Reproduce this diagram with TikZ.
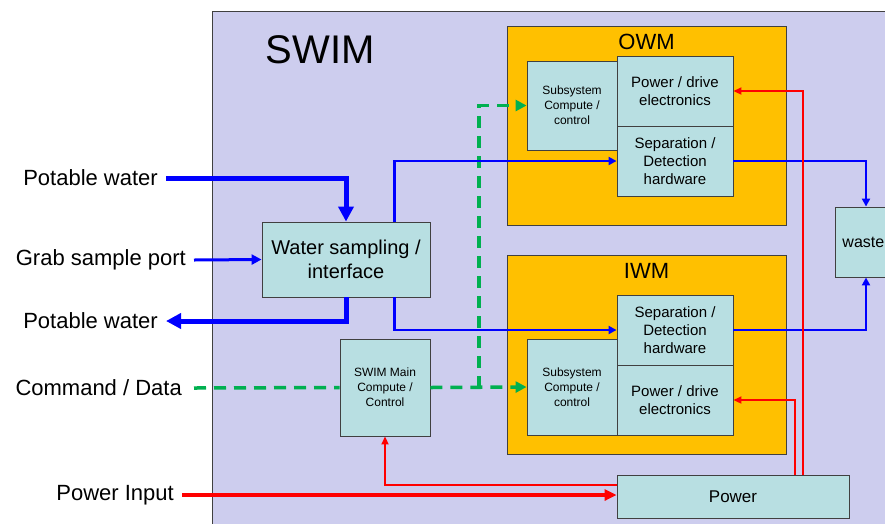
\documentclass[tikz,border=0pt]{standalone}
\usepackage{fontspec}
\setmainfont{Liberation Sans}
\usepackage{tikz}
\usetikzlibrary{positioning, calc, arrows.meta}

\definecolor{swimbg}{RGB}{205,205,238}
\definecolor{unitbg}{RGB}{255,192,0}
\definecolor{boxbg}{RGB}{184,223,226}
\definecolor{edge}{RGB}{64,64,64}
\definecolor{cmdgreen}{RGB}{0,176,80}

\newcommand{\fs}[2]{\fontsize{#1}{#2}\selectfont}

\begin{document}
\begin{tikzpicture}[x=1pt, y=-1pt,
    box/.style={draw=edge, fill=boxbg, line width=0.9pt, inner sep=0pt, align=center},
    unit/.style={draw=edge, fill=unitbg, line width=0.9pt, inner sep=0pt},
    ext/.style={inner xsep=8pt, anchor=east, font=\fs{22}{26}},
    flow/.style={draw=blue, line width=2.4pt, -{Triangle[length=8pt, width=8pt]}},
    bigflow/.style={draw=blue, line width=5pt, -{Triangle[length=15pt, width=15pt]}},
    cmd/.style={draw=cmdgreen, line width=3.5pt, dash pattern=on 12pt off 8pt, -{Triangle[length=11pt, width=11pt]}},
    pwr/.style={draw=red, line width=2pt, -{Triangle[length=8pt, width=7pt]}},
    bigpwr/.style={draw=red, line width=4pt, -{Triangle[length=12pt, width=11pt]}}]
    \useasboundingbox (0,0) rectangle (885,523);
    \clip (0,0) rectangle (885,523);

    % SWIM frame
    \node[draw=edge, fill=swimbg, line width=0.9pt, minimum width=720, minimum height=540, anchor=north west] (swim) at (212,11) {};
    \node[font=\fs{40}{48}] (swimlbl) at (320,50) {SWIM};

    % OWM and IWM units
    \node[unit, minimum width=279, minimum height=199] (owm) at (646.5,125.5) {};
    \node[font=\fs{22}{26}, below=5pt of owm.north] (owmlbl) {OWM};
    \node[unit, minimum width=279, minimum height=199] (iwm) at (646.5,354.5) {};
    \node[font=\fs{22}{26}, below=5pt of iwm.north] (iwmlbl) {IWM};

    % Blocks inside the units
    \node[box, minimum width=90, minimum height=89, font=\fs{12}{15}] (owmsub) at (572,105.5) {Subsystem\\Compute /\\control};
    \node[box, minimum width=116, minimum height=70, font=\fs{15}{18}] (owmpwr) at (675,91) {Power / drive\\electronics};
    \node[box, minimum width=116, minimum height=70, font=\fs{15}{18}] (owmsep) at (675,161) {Separation /\\Detection\\hardware};
    \node[box, minimum width=90, minimum height=96, font=\fs{12}{15}] (iwmsub) at (572,387) {Subsystem\\Compute /\\control};
    \node[box, minimum width=116, minimum height=70, font=\fs{15}{18}] (iwmsep) at (675,330) {Separation /\\Detection\\hardware};
    \node[box, minimum width=116, minimum height=70, font=\fs{15}{18}] (iwmpwr) at (675,400) {Power / drive\\electronics};

    % Other blocks
    \node[box, minimum width=168, minimum height=75, font=\fs{20}{24}] (ws) at (346,259.5) {Water sampling /\\interface};
    \node[box, minimum width=90, minimum height=97, font=\fs{12}{15}] (main) at (385,387.5) {SWIM Main\\Compute /\\Control};
    \node[box, minimum width=232, minimum height=43, font=\fs{17}{20}] (power) at (733,496.5) {Power};
    \node[box, anchor=west, text width=86pt, inner xsep=7pt, minimum height=70, align=left, font=\fs{16}{19}] (waste) at (835,242) {waste};

    % Outside connections
    \node[ext] (pwin) at (166,178) {Potable water};
    \node[ext] (grab) at (194,260) {Grab sample port};
    \node[ext] (pwout) at (166,321) {Potable water};
    \node[ext] (cmdin) at (190,388) {Command / Data};
    \node[ext] (pin) at (182,495) {Power Input};

    % Command / data
    \coordinate (split) at (479,387.5);
    \draw[cmd, -] ([xshift=4pt]cmdin.east) -- (main.west);
    \draw[cmd] (main.east) -- (iwmsub.west);
    \draw[cmd] (split) |- (owmsub.west);

    % Water
    \draw[bigflow] (pwin.east) -| (ws.north);
    \draw[bigflow] (ws.south) |- (pwout.east);
    \draw[flow, line width=3pt, -{Triangle[length=10pt, width=10pt]}] (grab.east) -- (ws.west);
    \draw[flow] ([xshift=-36pt]ws.north east) |- (owmsep.west);
    \draw[flow] ([xshift=-36pt]ws.south east) |- (iwmsep.west);
    \draw[flow] (owmsep.east) -| ([xshift=31pt]waste.north west);
    \draw[flow] (iwmsep.east) -| ([xshift=31pt]waste.south west);

    % Power
    \draw[bigpwr] (pin.east) -- (pin.east -| power.west);
    \draw[pwr] ([yshift=12pt]power.west) -| (main.south);
    \draw[pwr] ([xshift=-54pt]power.north east) |- (iwmpwr.east);
    \draw[pwr] ([xshift=-46pt]power.north east) |- (owmpwr.east);
\end{tikzpicture}
\end{document}
